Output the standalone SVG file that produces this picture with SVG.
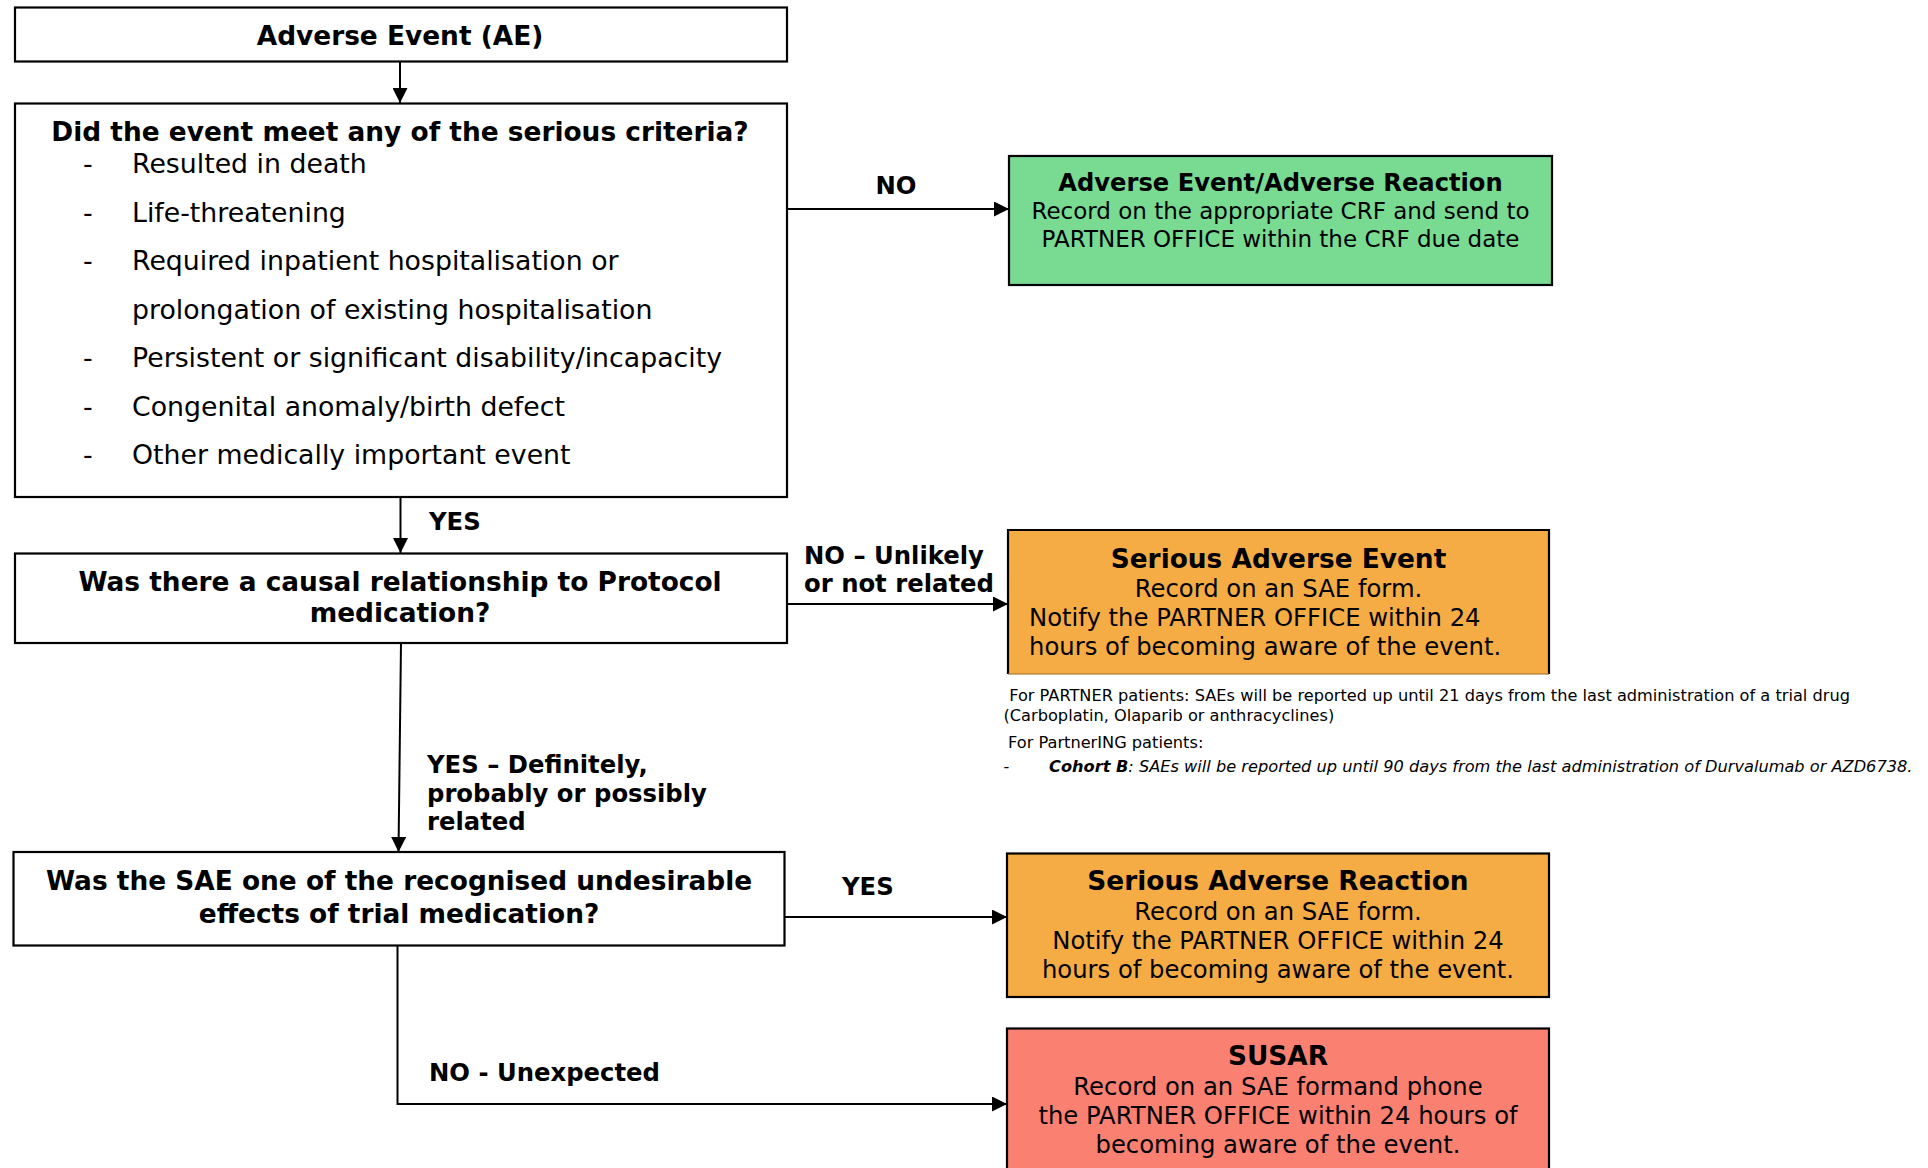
<svg xmlns="http://www.w3.org/2000/svg" width="1928" height="1168" viewBox="0 0 1928 1168">
<defs>
<style>
text { font-family: "DejaVu Sans", Verdana, sans-serif; fill: #000; }
.b { font-weight: bold; }
.t26 { font-size: 26.4px; }
.list { font-size: 26.75px; }
.t24 { font-size: 24.3px; }
.t23 { font-size: 23px; }
.note { font-size: 16.2px; }
.box { stroke: #000; stroke-width: 2.2; }
.w { fill: #fff; }
.green { fill: #78DB91; }
.orange { fill: #F6AC45; }
.red { fill: #FA8072; }
.c { text-anchor: middle; }
.con { fill: none; stroke: #000; stroke-width: 2; }
</style>
<marker id="ah" viewBox="0 0 10 10" refX="10" refY="5" markerWidth="7.5" markerHeight="7.5" markerUnits="strokeWidth" orient="auto">
<path d="M0,0 L10,5 L0,10 z" fill="#000"/>
</marker>
</defs>
<rect width="1928" height="1168" fill="#fff"/>

<g id="connectors">
<line class="con" x1="400" y1="62" x2="400" y2="103" marker-end="url(#ah)"/>
<line class="con" x1="787" y1="209" x2="1009" y2="209" marker-end="url(#ah)"/>
<line class="con" x1="400.5" y1="497" x2="400.5" y2="553" marker-end="url(#ah)"/>
<line class="con" x1="787" y1="604" x2="1008" y2="604" marker-end="url(#ah)"/>
<line class="con" x1="401" y1="643" x2="398.5" y2="852" marker-end="url(#ah)"/>
<line class="con" x1="784.5" y1="917" x2="1007" y2="917" marker-end="url(#ah)"/>
<polyline class="con" points="397.5,945.5 397.5,1104 1007,1104" marker-end="url(#ah)"/>
<text class="b t24" x="896" y="194" text-anchor="middle">NO</text>
<text class="b t24" x="429" y="530">YES</text>
<text class="b t24" x="804" y="564">NO – Unlikely</text>
<text class="b t24" x="804" y="592">or not related</text>
<text class="b t24" x="427" y="773">YES – Definitely,</text>
<text class="b t24" x="427" y="801.5">probably or possibly</text>
<text class="b t24" x="427" y="830">related</text>
<text class="b t24" x="842" y="895">YES</text>
<text class="b t24" x="429" y="1080.5">NO - Unexpected</text>
</g>

<g id="ae">
<rect class="box w" x="15" y="7.5" width="772" height="54"/>
<text class="b t26 c" x="400" y="45">Adverse Event (AE)</text>
</g>

<g id="serious-criteria">
<rect class="box w" x="15" y="103.5" width="772" height="393.5"/>
<text class="b t26 c" x="400" y="141">Did the event meet any of the serious criteria?</text>
<g class="list">
<text x="83" y="172.5">-</text><text x="132" y="172.5">Resulted in death</text>
<text x="83" y="221.5">-</text><text x="132" y="221.5">Life-threatening</text>
<text x="83" y="270">-</text><text x="132" y="270">Required inpatient hospitalisation or</text>
<text x="132" y="319">prolongation of existing hospitalisation</text>
<text x="83" y="367">-</text><text x="132" y="367">Persistent or significant disability/incapacity</text>
<text x="83" y="416">-</text><text x="132" y="416">Congenital anomaly/birth defect</text>
<text x="83" y="464">-</text><text x="132" y="464">Other medically important event</text>
</g>
</g>

<g id="ae-ar">
<rect class="box green" x="1009" y="156" width="543" height="129"/>
<text class="b c" style="font-size:24.2px" x="1280.5" y="191">Adverse Event/Adverse Reaction</text>
<text class="t23 c" x="1280.5" y="219">Record on the appropriate CRF and send to</text>
<text class="t23 c" x="1280.5" y="246.5">PARTNER OFFICE within the CRF due date</text>
</g>

<g id="causal">
<rect class="box w" x="15" y="553.5" width="772" height="89.5"/>
<text class="b t26 c" x="400" y="591">Was there a causal relationship to Protocol</text>
<text class="b t26 c" x="400" y="621.5">medication?</text>
</g>

<g id="sae">
<rect class="orange" x="1008" y="530" width="541" height="144"/>
<path d="M1008,674 L1008,530 L1549,530 L1549,674" fill="none" stroke="#000" stroke-width="2.2"/>
<line x1="1008" y1="674" x2="1549" y2="674" stroke="#9a6a20" stroke-width="1"/>
<text class="b t26 c" x="1278.5" y="567.5">Serious Adverse Event</text>
<text class="t24 c" x="1278.5" y="597">Record on an SAE form.</text>
<text class="t24" x="1029" y="626">Notify the PARTNER OFFICE within 24</text>
<text class="t24" x="1029" y="655">hours of becoming aware of the event.</text>
</g>

<g id="notes">
<text class="note" x="1004" y="701" xml:space="preserve"> For PARTNER patients: SAEs will be reported up until 21 days from the last administration of a trial drug</text>
<text class="note" x="1003.5" y="721">(Carboplatin, Olaparib or anthracyclines)</text>
<text class="note" x="1008" y="748">For PartnerING patients:</text>
<text class="note" x="1003.5" y="772">-</text>
<text class="note" x="1049" y="772" font-style="italic"><tspan font-weight="bold">Cohort B</tspan>: SAEs will be reported up until 90 days from the last administration of Durvalumab or AZD6738.</text>
</g>

<g id="undesirable">
<rect class="box w" x="13.5" y="852" width="771" height="93.5"/>
<text class="b t26 c" x="399" y="889.5">Was the SAE one of the recognised undesirable</text>
<text class="b t26 c" x="399" y="922.5">effects of trial medication?</text>
</g>

<g id="sar">
<rect class="box orange" x="1007" y="853.5" width="542" height="143.5"/>
<text class="b t26 c" x="1278" y="889.5">Serious Adverse Reaction</text>
<text class="t24 c" x="1278" y="919.5">Record on an SAE form.</text>
<text class="t24 c" x="1278" y="949">Notify the PARTNER OFFICE within 24</text>
<text class="t24 c" x="1278" y="978">hours of becoming aware of the event.</text>
</g>

<g id="susar">
<rect class="box red" x="1007" y="1028.5" width="542" height="160"/>
<text class="b t26 c" x="1278" y="1065">SUSAR</text>
<text class="t24 c" x="1278" y="1095">Record on an SAE formand phone</text>
<text class="t24 c" x="1278" y="1124">the PARTNER OFFICE within 24 hours of</text>
<text class="t24 c" x="1278" y="1152.5">becoming aware of the event.</text>
</g>
</svg>
